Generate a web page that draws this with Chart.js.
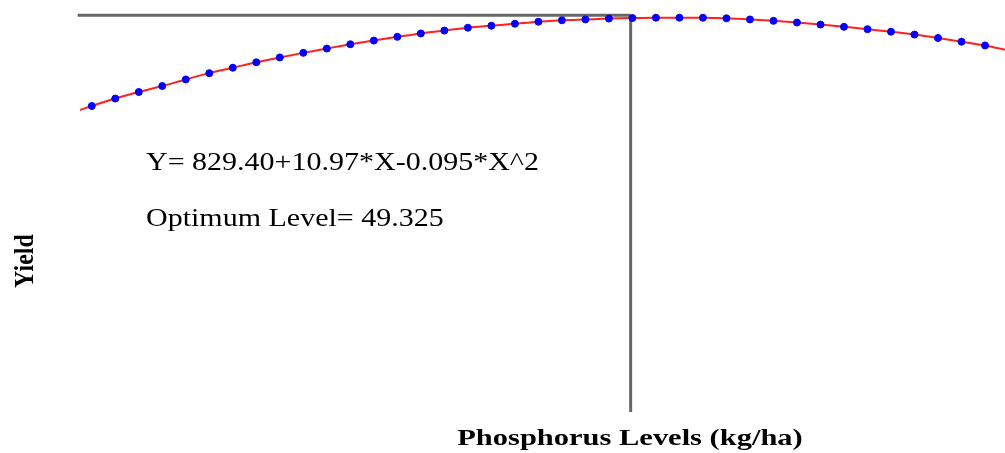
<!DOCTYPE html>
<html>
<head>
<meta charset="utf-8">
<script src="https://cdn.jsdelivr.net/npm/chart.js@4"></script>
<style>
  body { margin: 0; background: #fff; }
  #wrap { width: 1005px; height: 453px; }
</style>
</head>
<body>
<div id="wrap"><canvas id="chart"></canvas></div>
<script>
// phosphorus levels of the observed points (kg/ha)
var levels = [1, 3, 5, 7, 9, 11, 13, 15, 17, 19, 21, 23, 25, 27, 29, 31, 33, 35, 37, 39,
              41, 43, 45, 47, 49, 51, 53, 55, 57, 59, 61, 63, 65, 67, 69, 71, 73, 75, 77];
// yield
var yields = [839, 865, 888, 909, 932, 954, 973, 992, 1009, 1025, 1040, 1055, 1068, 1081, 1093, 1103, 1113, 1120, 1127, 1134,
              1139, 1142, 1145, 1147, 1148, 1148, 1148, 1146, 1142, 1137, 1131, 1124, 1116, 1108, 1099, 1089, 1077, 1064, 1051];
// fitted curve ends, just outside the first and last dot
var curveStart = { x: 0, y: 825 };
var curveEnd = { x: 78.7, y: 1036 };
// optimum marker
var optimumLevel = 46.85;
var optimumYield = 1157;
var yMin = -232, yMax = 1210;

var equationText = 'Y= 829.40+10.97*X-0.095*X^2';
var optimumText = 'Optimum Level= 49.325';
var xTitle = 'Phosphorus Levels (kg/ha)';
var yTitle = 'Yield';

var points = levels.map(function(l, i) { return { x: l, y: yields[i] }; });
var curve = [curveStart].concat(points, [curveEnd]);

// the source picture is stretched sideways, so the texts are too
function stretchedText(c, txt, x, y, sx, rot) {
  c.save();
  c.translate(x, y);
  c.scale(sx, 1);
  if (rot) c.rotate(rot);
  c.fillText(txt, 0, 0);
  c.restore();
}

var textPlugin = {
  id: 'texts',
  afterDraw: function(chart) {
    var c = chart.ctx;
    c.save();
    c.fillStyle = '#000';
    c.textBaseline = 'alphabetic';
    c.textAlign = 'left';
    c.font = '25px "Liberation Serif"';
    stretchedText(c, equationText, 146, 170, 1.2);
    stretchedText(c, optimumText, 146, 226, 1.2);

    c.font = 'bold 24px "Liberation Serif"';
    c.textAlign = 'center';
    stretchedText(c, xTitle, 630, 445, 1.27);
    stretchedText(c, yTitle, 33, 261, 1.12, -Math.PI / 2);
    c.restore();
  }
};

var ctx = document.getElementById('chart').getContext('2d');
var chart = new Chart(ctx, {
  type: 'scatter',
  data: {
    datasets: [
      {
        data: [{ x: -0.2, y: optimumYield }, { x: optimumLevel, y: optimumYield }],
        showLine: true,
        borderColor: '#666666',
        borderWidth: 3,
        pointRadius: 0,
        clip: false,
        order: 3
      },
      {
        data: [{ x: optimumLevel, y: optimumYield }, { x: optimumLevel, y: yMin }],
        showLine: true,
        borderColor: '#666666',
        borderWidth: 3,
        pointRadius: 0,
        clip: false,
        order: 3
      },
      {
        data: curve,
        showLine: true,
        borderColor: '#ff2020',
        borderWidth: 2,
        pointRadius: 0,
        cubicInterpolationMode: 'monotone',
        order: 2
      },
      {
        data: points,
        showLine: false,
        backgroundColor: '#0000ff',
        borderColor: '#0000ff',
        pointRadius: 3.5,
        order: 1
      }
    ]
  },
  options: {
    responsive: true,
    maintainAspectRatio: false,
    animation: false,
    layout: { autoPadding: false, padding: { left: 80, right: 0, top: 0, bottom: 41 } },
    plugins: { legend: { display: false }, tooltip: { enabled: false } },
    scales: {
      x: { type: 'linear', display: false, min: 0, max: 78.7 },
      y: { type: 'linear', display: false, min: yMin, max: yMax }
    }
  },
  plugins: [textPlugin]
});
</script>
</body>
</html>
